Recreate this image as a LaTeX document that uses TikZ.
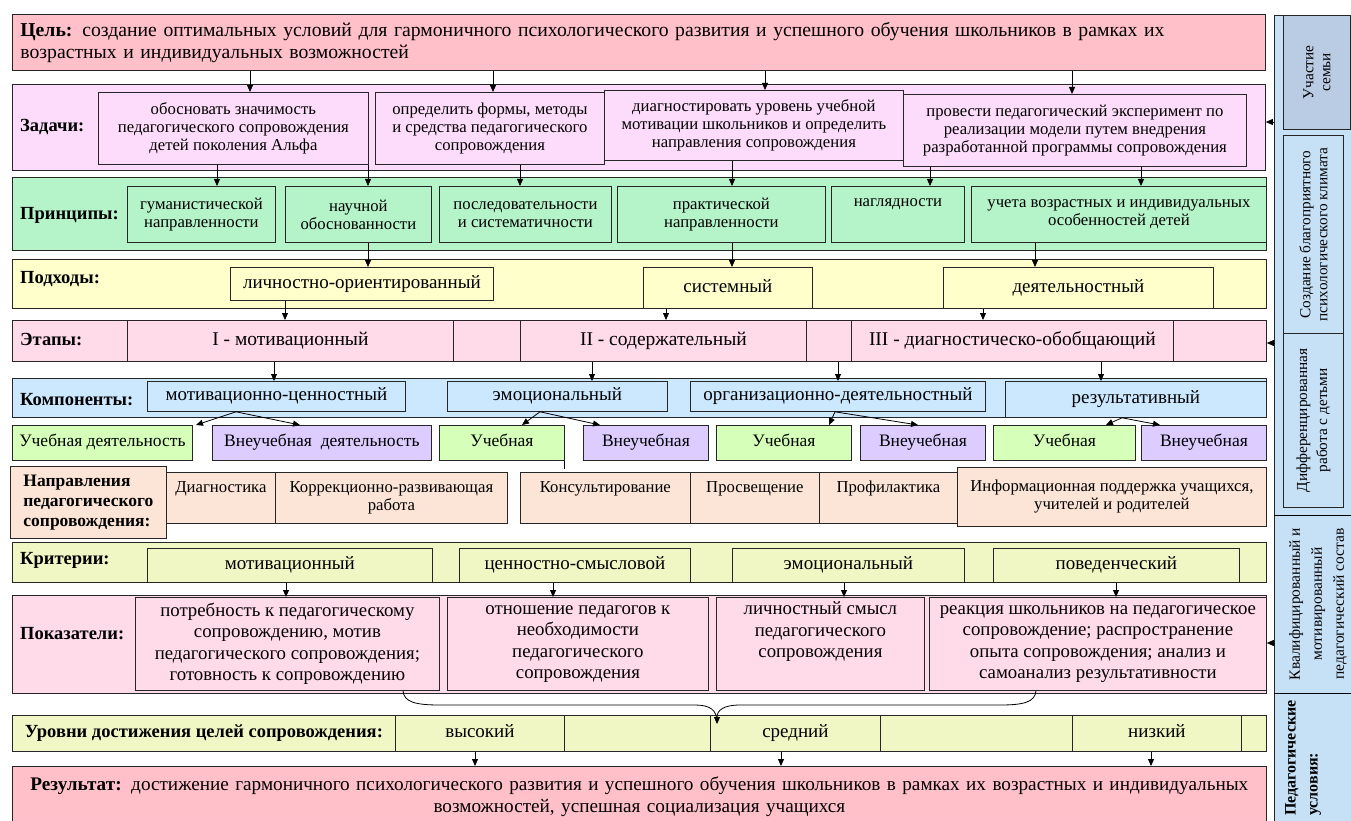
\documentclass[tikz,border=0pt]{standalone}
\usepackage{fontspec}
\setmainfont{Liberation Serif}
\usetikzlibrary{arrows.meta}

\definecolor{goalpink}{RGB}{255,192,202}
\definecolor{taskpink}{RGB}{253,219,250}
\definecolor{princgreen}{RGB}{180,244,200}
\definecolor{appryellow}{RGB}{255,255,204}
\definecolor{stagepink}{RGB}{255,218,232}
\definecolor{compblue}{RGB}{204,232,255}
\definecolor{studgreen}{RGB}{214,255,186}
\definecolor{extrapurple}{RGB}{220,204,255}
\definecolor{dirpeach}{RGB}{252,228,214}
\definecolor{critlime}{RGB}{240,247,196}
\definecolor{sideblue}{RGB}{198,224,246}
\definecolor{famgray}{RGB}{186,204,228}

\tikzset{
  cell/.style={draw=black!85, line width=0.8pt, align=center, inner sep=1pt,
    font=\fontsize{16.7}{18}\selectfont},
  bigcell/.style={font=\fontsize{19}{21}\selectfont, text height=13pt, text depth=4pt},
  kidcell/.style={font=\fontsize{17.5}{19}\selectfont, text height=12pt, text depth=4pt},
  stagecell/.style={font=\fontsize{19.5}{22}\selectfont, text height=14pt, text depth=4pt},
  indcell/.style={font=\fontsize{18.8}{21.5}\selectfont},
  rowlbl/.style={anchor=west, inner sep=0pt, font=\fontsize{18.5}{20}\selectfont\bfseries},
  arr/.style={-{Triangle[length=7pt,width=6pt]}, line width=0.8pt},
  sidetxt/.style={rotate=90, align=center, inner sep=0pt, font=\fontsize{15.3}{17}\selectfont},
}

% box from (x1,y1) to (x2,y2): name, style, x1, y1, x2, y2, text
\newcommand\cellbox[7]{%
  \pgfmathsetmacro\cw{#5-(#3)}%
  \pgfmathsetmacro\ch{#6-(#4)}%
  \node[cell,#2,anchor=north west,minimum width=\cw pt,minimum height=\ch pt] (#1) at (#3,#4) {#7};}

\begin{document}
\begin{tikzpicture}[x=1pt,y=-1pt]
\useasboundingbox (0,0) rectangle (1351,821);
\clip (0,0) rectangle (1351,821);

% side column
\cellbox{col}{fill=sideblue}{1274}{15}{1365}{830}{}
\cellbox{fam}{fill=famgray}{1283}{15}{1350}{129}{}
\cellbox{clim}{fill=sideblue}{1283}{135}{1343}{333}{}
\cellbox{diff}{fill=sideblue}{1283}{333}{1343}{507}{}
\node[sidetxt] (famt) at (fam) {Участие\\семьи};
\node[sidetxt] (climt) at (clim) {Создание благоприятного\\психологического климата};
\node[sidetxt, font=\fontsize{15.3}{20}\selectfont] (difft) at (diff) {Дифференцированная\\работа с детьми};
\draw[line width=0.8pt] (col.west |- 0,515) -- (col.east |- 0,515);
\draw[line width=0.8pt] (col.west |- 0,693) -- (col.east |- 0,693);
\node[sidetxt, font=\fontsize{15.5}{22}\selectfont] (qualt) at (1318,604) {Квалифицированный и\\мотивированный\\педагогический состав};
\node[sidetxt, align=left, anchor=north west, font=\fontsize{16}{22}\selectfont\bfseries] (condt) at (1285,816) {Педагогические\\условия:};

% goal
\cellbox{zel}{fill=goalpink, text width=1237pt, align=left, inner sep=8pt, font=\fontsize{19.7}{22}\selectfont}{12}{14}{1265}{70}{\textbf{Цель:} создание оптимальных условий для гармоничного психологического развития и успешного обучения школьников в рамках их\\возрастных и индивидуальных возможностей}

% tasks
\cellbox{zad}{fill=taskpink}{12}{84}{1265}{170}{}
\node[rowlbl] (zadl) at (20,127) {Задачи:};
\cellbox{t1}{fill=taskpink}{98}{92}{368}{164}{обосновать значимость\\педагогического сопровождения\\детей поколения Альфа}
\cellbox{t2}{fill=taskpink}{375}{92}{604}{164}{определить формы, методы\\и средства педагогического\\сопровождения}
\cellbox{t3}{fill=taskpink}{604}{90}{903}{160}{диагностировать уровень учебной\\мотивации школьников и определить\\направления сопровождения}
\cellbox{t4}{fill=taskpink}{903}{94}{1246}{166}{провести педагогический эксперимент по\\реализации модели путем внедрения\\разработанной программы сопровождения}
\foreach \x/\t in {250/t1,493/t2,765/t3,1072/t4}
  \draw[arr] (\x,0 |- zel.south) -- (\x,0 |- \t.north);

% principles
\cellbox{pr}{fill=princgreen}{12}{177}{1266}{250}{}
\node[rowlbl] (prl) at (20,215) {Принципы:};
\cellbox{p1}{fill=princgreen}{127}{186}{275}{242}{гуманистической\\направленности}
\cellbox{p2}{fill=princgreen}{285}{186}{431}{242}{научной\\обоснованности}
\cellbox{p3}{fill=princgreen}{439}{186}{611}{242}{последовательности\\и систематичности}
\cellbox{p4}{fill=princgreen}{617}{186}{825}{242}{практической\\направленности}
\cellbox{p5}{fill=princgreen}{831}{186}{964}{242}{наглядности\\\strut}
\cellbox{p6}{fill=princgreen}{971}{186}{1266}{242}{учета возрастных и индивидуальных\\особенностей детей}
\foreach \x/\s/\t in {217/t1/p1,368/t1/p2,520/t2/p3,732/t3/p4,930/t4/p5,1141/t4/p6}
  \draw[arr] (\x,0 |- \s.south) -- (\x,0 |- \t.north);

% approaches
\cellbox{ap}{fill=appryellow}{12}{259}{1266}{308}{}
\node[rowlbl] (apl) at (20,279) {Подходы:};
\cellbox{a1}{fill=appryellow,bigcell}{230}{267}{493}{300}{личностно-ориентированный}
\cellbox{a2}{fill=appryellow,bigcell}{643}{267}{812}{308}{системный}
\cellbox{a3}{fill=appryellow,bigcell}{943}{267}{1213}{308}{деятельностный}
\foreach \x/\s/\t in {368/p2/a1,732/p4/a2,1035/p6/a3}
  \draw[arr] (\x,0 |- \s.south) -- (\x,0 |- \t.north);

% stages
\cellbox{et}{fill=stagepink}{12}{320}{1266}{361}{}
\node[rowlbl] (etl) at (20,340) {Этапы:};
\cellbox{e1}{fill=stagepink,stagecell}{127}{320}{453}{361}{I - мотивационный}
\cellbox{ex1}{fill=stagepink}{453}{320}{520}{361}{}
\cellbox{e2}{fill=stagepink,stagecell}{520}{320}{806}{361}{II - содержательный}
\cellbox{ex2}{fill=stagepink}{806}{320}{851}{361}{}
\cellbox{e3}{fill=stagepink,stagecell}{851}{320}{1173}{361}{III - диагностическо-обобщающий}
\cellbox{ex3}{fill=stagepink}{1173}{320}{1266}{361}{}
\foreach \x/\s/\t in {285/a1/e1,666/a2/e2,983/a3/e3}
  \draw[arr] (\x,0 |- \s.south) -- (\x,0 |- \t.north);

% components
\cellbox{ko}{fill=compblue}{12}{378}{1266}{417}{}
\node[rowlbl] (kol) at (20,400) {Компоненты:};
\cellbox{c1}{fill=compblue,bigcell}{147}{381}{405}{411}{мотивационно-ценностный}
\cellbox{c2}{fill=compblue,bigcell}{447}{381}{667}{411}{эмоциональный}
\cellbox{c3}{fill=compblue,bigcell}{690}{381}{985}{411}{организационно-деятельностный}
\cellbox{c4}{fill=compblue,bigcell}{1005}{381}{1266}{417}{результативный}
\foreach \x/\s/\t in {274/e1/c1,592/e2/c2,838/et/c3,1101/e3/c4}
  \draw[arr] (\x,0 |- \s.south) -- (\x,0 |- \t.north);

% activity kinds
\cellbox{k1}{fill=studgreen,kidcell}{12}{425}{192}{460}{Учебная деятельность}
\cellbox{k2}{fill=extrapurple,kidcell}{212}{425}{431}{460}{Внеучебная\ \ деятельность}
\cellbox{k3}{fill=studgreen,kidcell}{439}{425}{564}{460}{Учебная}
\cellbox{k4}{fill=extrapurple,kidcell}{583}{425}{708}{460}{Внеучебная}
\cellbox{k5}{fill=studgreen,kidcell}{716}{425}{851}{460}{Учебная}
\cellbox{k6}{fill=extrapurple,kidcell}{860}{425}{985}{460}{Внеучебная}
\cellbox{k7}{fill=studgreen,kidcell}{993}{425}{1135}{460}{Учебная}
\cellbox{k8}{fill=extrapurple,kidcell}{1141}{425}{1266}{460}{Внеучебная}
\draw[line width=0.8pt] (k3.south east) -- ++(0,8);
\foreach \a/\c/\l/\r in {236/c1/196/300,540/c2/522/600,835/c3/829/918,1122/c4/1106/1160}{
  \draw[arr] (\a,0 |- \c.south) -- (\l,0 |- k1.north);
  \draw[arr] (\a,0 |- \c.south) -- (\r,0 |- k1.north);
}

% directions
\cellbox{nd}{fill=dirpeach, align=left, font=\fontsize{17.5}{20}\selectfont\bfseries}{10}{466}{166}{538}{Направления\\педагогического\\сопровождения:}
\cellbox{d1}{fill=dirpeach}{166}{472}{275}{523}{Диагностика\\[4pt]}
\cellbox{d2}{fill=dirpeach}{275}{472}{507}{523}{Коррекционно-развивающая\\работа}
\cellbox{d3}{fill=dirpeach}{520}{472}{690}{523}{Консультирование\\[4pt]}
\cellbox{d4}{fill=dirpeach}{690}{472}{819}{523}{Просвещение\\[4pt]}
\cellbox{d5}{fill=dirpeach}{819}{472}{957}{523}{Профилактика\\[4pt]}
\cellbox{d6}{fill=dirpeach}{957}{467}{1266}{526}{Информационная поддержка учащихся,\\учителей и родителей}

% criteria
\cellbox{kr}{fill=critlime}{12}{542}{1266}{582}{}
\node[rowlbl] (krl) at (20,560) {Критерии:};
\cellbox{r1}{fill=critlime,bigcell}{147}{548}{432}{582}{мотивационный}
\cellbox{r2}{fill=critlime,bigcell}{459}{548}{690}{582}{ценностно-смысловой}
\cellbox{r3}{fill=critlime,bigcell}{732}{548}{964}{582}{эмоциональный}
\cellbox{r4}{fill=critlime,bigcell}{993}{548}{1239}{582}{поведенческий}

% indicators
\cellbox{po}{fill=stagepink}{12}{595}{1266}{693}{}
\node[rowlbl] (pol) at (20,634) {Показатели:};
\cellbox{s1}{fill=stagepink,indcell}{135}{597}{439}{690}{потребность к педагогическому\\сопровождению, мотив\\педагогического сопровождения;\\готовность к сопровождению}
\cellbox{s2}{fill=stagepink,indcell}{447}{597}{708}{690}{отношение педагогов к\\необходимости\\педагогического\\сопровождения}
\cellbox{s3}{fill=stagepink,indcell}{716}{597}{924}{690}{личностный смысл\\педагогического\\сопровождения\\\strut}
\cellbox{s4}{fill=stagepink,indcell}{929}{597}{1266}{690}{реакция школьников на педагогическое\\сопровождение; распространение\\опыта сопровождения; анализ и\\самоанализ результативности}
\foreach \x/\s/\t in {286/r1/s1,553/r2/s2,844/r3/s3,1116/r4/s4}
  \draw[arr] (\x,0 |- \s.south) -- (\x,0 |- \t.north);

% levels
\cellbox{ul}{fill=critlime, font=\fontsize{18.5}{20}\selectfont\bfseries}{12}{715}{395}{751}{Уровни достижения целей сопровождения:}
\cellbox{u1}{fill=critlime,bigcell}{395}{715}{564}{751}{высокий}
\cellbox{ux1}{fill=critlime}{564}{715}{710}{751}{}
\cellbox{u2}{fill=critlime,bigcell}{710}{715}{880}{751}{средний}
\cellbox{ux2}{fill=critlime}{880}{715}{1072}{751}{}
\cellbox{u3}{fill=critlime,bigcell}{1072}{715}{1241}{751}{низкий}
\cellbox{ux3}{fill=critlime}{1241}{715}{1266}{751}{}

% brace from indicators to levels
\draw[line width=0.8pt] (403,0 |- s1.south) .. controls (404,702) and (415,705) .. (440,705)
  -- (695,705) .. controls (710,705) and (717,710) .. (717,722);
\draw[arr] (1036,0 |- s4.south) .. controls (1035,702) and (1024,705) .. (1000,705)
  -- (740,705) .. controls (724,705) and (717,710) .. (717,724);

% result
\cellbox{rez}{fill=goalpink, text width=1236pt, inner sep=9pt, font=\fontsize{19.2}{22}\selectfont}{12}{766}{1266}{826}{\textbf{Результат:} достижение гармоничного психологического развития и успешного обучения школьников в рамках их возрастных и индивидуальных\\возможностей, успешная социализация учащихся}
\foreach \x/\s in {475/u1,781/u2,1151/u3}
  \draw[arr] (\x,0 |- \s.south) -- (\x,0 |- rez.north);

% side arrows
\foreach \y/\t in {122/zad,343/et,643/po}
  \draw[arr] (col.west |- 0,\y) -- (\t.east |- 0,\y);
\end{tikzpicture}
\end{document}
